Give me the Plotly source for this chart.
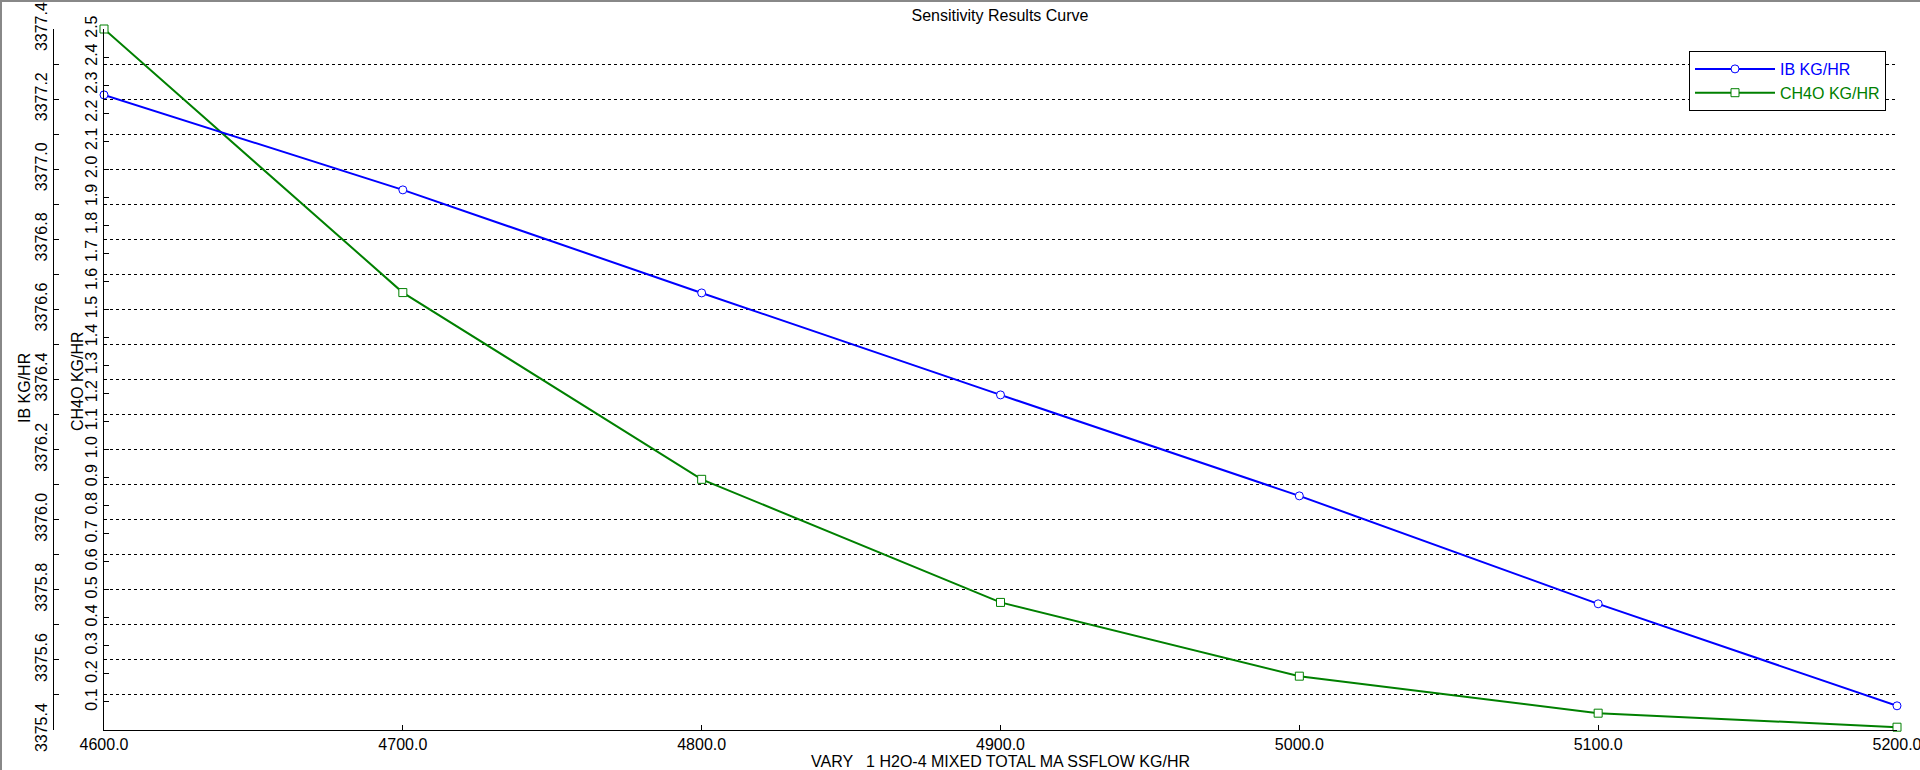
import plotly.graph_objects as go

# ---------------- data ----------------
vary_flow = [4600.0, 4700.0, 4800.0, 4900.0, 5000.0, 5100.0, 5200.0]
ib_kghr = [3377.212, 3376.941, 3376.647, 3376.356, 3376.068, 3375.760, 3375.469]
ch4o_kghr = [2.500, 1.560, 0.894, 0.455, 0.192, 0.060, 0.010]

x_ticks = [4600.0, 4700.0, 4800.0, 4900.0, 5000.0, 5100.0, 5200.0]
ch4o_ticks = [round(0.1 * i, 1) for i in range(1, 26)]

title_text = "Sensitivity Results Curve"
x_title = "VARY   1 H2O-4 MIXED TOTAL MA SSFLOW KG/HR"
ib_name = "IB KG/HR"
ch4o_name = "CH4O KG/HR"

# ---------------- layout geometry (pixels) ----------------
W, H = 1920, 770
ML, MR, MT, MB = 2, 23, 29, 40
PW = W - ML - MR
PH = H - MT - MB
X_AXIS_LEFT = 104      # CH4O axis / plot left
IB_AXIS_X = 53         # IB axis line


def px_to_paper_x(px):
    return (px - ML) / PW


def py_to_paper_y(py):
    return 1 - (py - MT) / PH


FONT = "Arial, 'Liberation Sans', sans-serif"
BLUE = "#0000FF"
GREEN = "#008000"

fig = go.Figure()

fig.add_trace(go.Scatter(
    x=vary_flow, y=ib_kghr, yaxis="y2",
    name=f"<span style='color:{BLUE}'>{ib_name}</span>",
    mode="lines+markers", cliponaxis=False,
    line=dict(color=BLUE, width=2),
    marker=dict(symbol="circle", size=8, color="white",
                line=dict(color=BLUE, width=1)),
))
fig.add_trace(go.Scatter(
    x=vary_flow, y=ch4o_kghr, yaxis="y",
    name=f"<span style='color:{GREEN}'>{ch4o_name}</span>",
    mode="lines+markers", cliponaxis=False,
    line=dict(color=GREEN, width=2),
    marker=dict(symbol="square", size=8, color="white",
                line=dict(color=GREEN, width=1)),
))

grid_style = dict(gridcolor="black", gridwidth=1, griddash="3px,3px")

fig.update_layout(
    width=W, height=H,
    margin=dict(l=ML, r=MR, t=MT, b=MB, autoexpand=False),
    paper_bgcolor="white", plot_bgcolor="white",
    font=dict(family=FONT, size=16, color="black"),
    title=dict(text=title_text, xref="container", yref="container",
               x=1000 / W, y=1 - 15 / H, xanchor="center", yanchor="middle",
               font=dict(family=FONT, size=16, color="black")),
    showlegend=True,
    legend=dict(x=px_to_paper_x(1886), y=py_to_paper_y(51),
                xanchor="right", yanchor="top",
                bgcolor="white", bordercolor="black", borderwidth=1,
                font=dict(family=FONT, size=16),
                itemwidth=80, tracegroupgap=0),
    xaxis=dict(
        domain=[px_to_paper_x(X_AXIS_LEFT), 1],
        range=[4600, 5200],
        tickmode="array", tickvals=x_ticks, tickformat=".1f",
        ticks="inside", ticklen=5, tickcolor="black",
        ticklabeloverflow="allow",
        showline=True, linecolor="black", linewidth=1,
        showgrid=False, zeroline=False, automargin=False,
        title=dict(text=x_title, standoff=2, font=dict(size=16)),
    ),
    yaxis=dict(
        anchor="x", side="left",
        range=[0, 2.5],
        tickmode="array", tickvals=ch4o_ticks, tickformat=".1f",
        tickangle=-90,
        ticks="inside", ticklen=5, tickcolor="black",
        ticklabeloverflow="allow",
        showline=True, linecolor="black", linewidth=1,
        showgrid=False, zeroline=False, automargin=False,
    ),
    yaxis2=dict(
        overlaying="y", anchor="free", side="left",
        position=px_to_paper_x(IB_AXIS_X),
        range=[3375.4, 3377.4],
        tick0=3375.4, dtick=0.2, tickformat=".1f",
        tickangle=-90,
        ticks="inside", ticklen=5, tickcolor="black",
        ticklabeloverflow="allow",
        showline=True, linecolor="black", linewidth=1,
        showgrid=True, **grid_style,
        minor=dict(tick0=3375.4, dtick=0.1, ticks="inside", ticklen=5,
                   tickcolor="black", showgrid=True, **grid_style),
        zeroline=False, automargin=False,
    ),
    annotations=[
        dict(text=ib_name, xref="paper", yref="paper",
             x=px_to_paper_x(24), y=py_to_paper_y(388),
             xanchor="center", yanchor="middle", textangle=-90,
             showarrow=False, font=dict(family=FONT, size=16, color="black")),
        dict(text=ch4o_name, xref="paper", yref="paper",
             x=px_to_paper_x(77), y=py_to_paper_y(381),
             xanchor="center", yanchor="middle", textangle=-90,
             showarrow=False, font=dict(family=FONT, size=16, color="black")),
    ],
    shapes=[
        dict(type="line", xref="paper", yref="paper",
             x0=px_to_paper_x(0), x1=px_to_paper_x(W),
             y0=py_to_paper_y(1), y1=py_to_paper_y(1),
             line=dict(color="#888888", width=2)),
        dict(type="line", xref="paper", yref="paper",
             x0=px_to_paper_x(1), x1=px_to_paper_x(1),
             y0=py_to_paper_y(0), y1=py_to_paper_y(H),
             line=dict(color="#888888", width=2)),
    ],
)

fig.write_html(
    "out.html",
    config={"displayModeBar": False},
    post_script="document.body.style.margin='0';document.body.style.overflow='hidden';",
)
